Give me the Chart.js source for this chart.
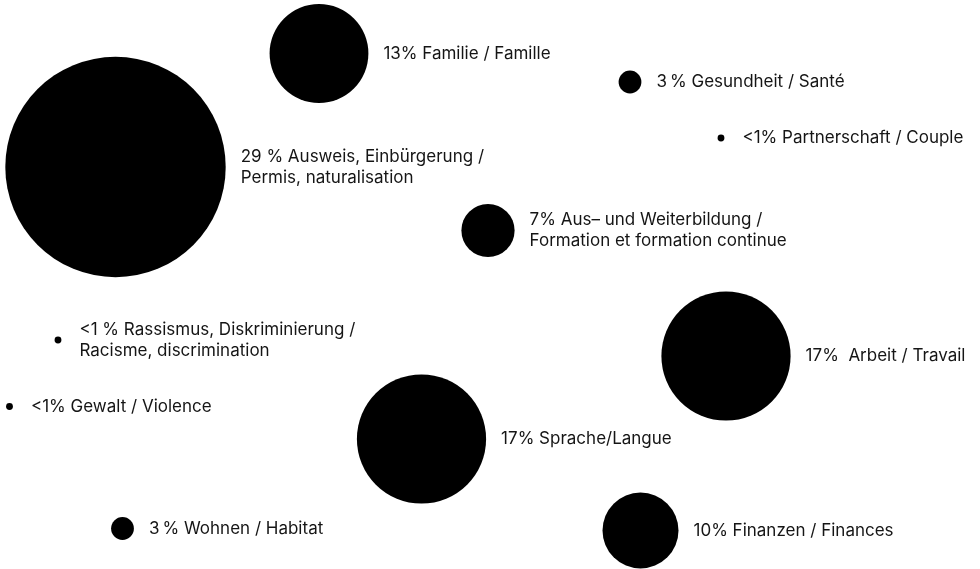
<!DOCTYPE html>
<html>
<head>
<meta charset="utf-8">
<script src="https://cdn.jsdelivr.net/npm/chart.js@4/dist/chart.umd.min.js"></script>
<style>
  html, body { margin: 0; padding: 0; background: #ffffff; }
  #wrap { width: 980px; height: 569px; position: relative; }
</style>
</head>
<body>
<div id="wrap"><canvas id="c"></canvas></div>
<script>
// ---- data ----
const categories = [
  ["13% Familie / Famille"],
  ["3\u2009% Gesundheit / Santé"],
  ["29 % Ausweis, Einbürgerung /", "Permis, naturalisation"],
  ["<1% Partnerschaft / Couple"],
  ["7% Aus\u2013 und Weiterbildung /", "Formation et formation continue"],
  ["<1 % Rassismus, Diskriminierung /", "Racisme, discrimination"],
  ["17%  Arbeit / Travail"],
  ["<1% Gewalt / Violence"],
  ["17% Sprache/Langue"],
  ["3\u2009% Wohnen / Habitat"],
  ["10% Finanzen / Finances"]
];
const shares = [13, 3, 29, 0.9, 7, 0.9, 17, 0.9, 17, 3, 10];
const xValues = [319, 630, 115.5, 721, 488, 58, 726, 9.5, 421.5, 122.5, 640.5];
const yValues = [53.5, 82, 167, 138, 230.5, 340, 356, 406.5, 439, 528.5, 530.5];

const RADIUS_PER_PERCENT = 3.8;

const points = shares.map((v, i) => ({ x: xValues[i], y: yValues[i], r: v * RADIUS_PER_PERCENT }));

const labelPlugin = {
  id: 'bubbleLabels',
  afterDatasetsDraw(chart) {
    const ctx = chart.ctx;
    const meta = chart.getDatasetMeta(0);
    ctx.save();
    ctx.font = '17px Inter, "Noto Sans", sans-serif';
    ctx.fillStyle = '#151515';
    ctx.textBaseline = 'middle';
    ctx.textAlign = 'left';
    const lineH = 21;
    meta.data.forEach((el, i) => {
      const r = el.options.radius;
      const gap = r < 6 ? 18 : 15;
      const lines = categories[i];
      const x = el.x + r + gap;
      const y0 = el.y - (lines.length - 1) * lineH / 2;
      lines.forEach((t, k) => ctx.fillText(t, x, y0 + k * lineH));
    });
    ctx.restore();
  }
};

new Chart(document.getElementById('c'), {
  type: 'bubble',
  data: {
    datasets: [{
      data: points,
      backgroundColor: '#000000',
      borderWidth: 0,
      hoverBorderWidth: 0,
      clip: false
    }]
  },
  options: {
    responsive: true,
    maintainAspectRatio: false,
    animation: false,
    events: [],
    layout: { padding: 0, autoPadding: false },
    plugins: { legend: { display: false }, tooltip: { enabled: false } },
    scales: {
      x: { type: 'linear', min: 0, max: 980, display: false },
      y: { type: 'linear', min: 0, max: 569, reverse: true, display: false }
    }
  },
  plugins: [labelPlugin]
});
</script>
</body>
</html>
